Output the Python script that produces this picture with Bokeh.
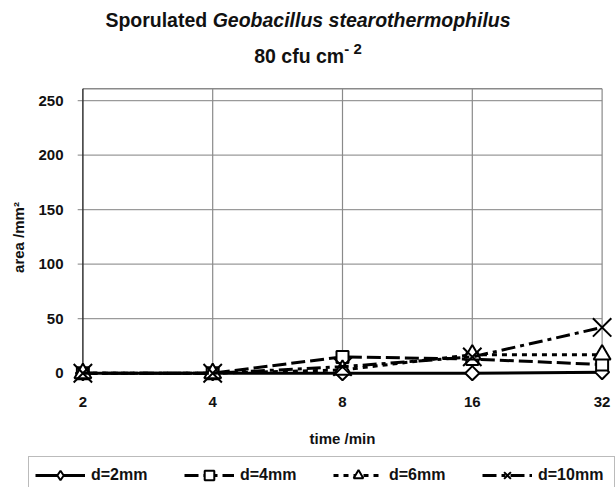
from bokeh.plotting import figure
from bokeh.models import (Range1d, FixedTicker, Legend, LegendItem, Div, ColumnDataSource)
from bokeh.layouts import column
from bokeh.embed import file_html
from bokeh.resources import INLINE

# ---------------- data ----------------
TIMES = ["2", "4", "8", "16", "32"]
D2 = [0, 0, 0, 0, 1]
D4 = [0, 0, 15, 13, 8]
D6 = [0, 0, 3, 17, 17]
D10 = [0, 0, 6, 15, 42]
Y_TICKS = [0, 50, 100, 150, 200, 250]
Y_TOP = 261
SERIES_LABELS = ["d=2mm", "d=4mm", "d=6mm", "d=10mm"]

XPOS = list(range(len(TIMES)))
FONT = "Liberation Sans"

title_html = (
    f'<div style="font-family:\'{FONT}\',Arial,sans-serif;font-weight:bold;'
    f'font-size:19.5px;color:#111;text-align:center;width:616px;padding-top:8px;">'
    f'<div style="line-height:24px;height:24px;">Sporulated <i>Geobacillus stearothermophilus</i></div>'
    f'<div style="line-height:24px;height:24px;margin-top:12px;">80 cfu cm'
    f'<span style="font-size:15px;position:relative;top:-9px;">- 2</span></div>'
    f'</div>'
)
title = Div(text=title_html, width=616, height=86, margin=0)

p = figure(width=616, height=370, output_backend="svg", toolbar_location=None,
           x_range=Range1d(-0.08, 4.08), y_range=Range1d(-14, 263),
           min_border_left=72, min_border_right=4, min_border_top=0,
           min_border_bottom=68, margin=0)
p.outline_line_color = None
p.xgrid.visible = False
p.ygrid.visible = False
p.background_fill_color = "white"
p.border_fill_color = "white"

# axes
p.xaxis.ticker = FixedTicker(ticks=XPOS)
p.xaxis.major_label_overrides = {i: t for i, t in zip(XPOS, TIMES)}
p.yaxis.ticker = FixedTicker(ticks=Y_TICKS)
for ax in (p.xaxis, p.yaxis):
    ax.axis_line_color = None
    ax.major_tick_line_color = None
    ax.minor_tick_line_color = None
    ax.major_label_text_font = FONT
    ax.major_label_text_font_style = "bold"
    ax.major_label_text_font_size = "15px"
    ax.major_label_text_color = "#111111"
    ax.axis_label_text_font = FONT
    ax.axis_label_text_font_style = "bold"
    ax.axis_label_text_font_size = "15px"
    ax.axis_label_text_color = "#111111"
p.xaxis.major_label_standoff = 2
p.xaxis.axis_label = "time /min"
p.xaxis.axis_label_standoff = 20
p.yaxis.major_label_standoff = 3
p.yaxis.axis_label = "area /mm²"
p.yaxis.axis_label_standoff = 8

# plot box and grid
grid_src = ColumnDataSource(dict(
    x0=[-0.04] * len(Y_TICKS), x1=[XPOS[-1]] * len(Y_TICKS), y=Y_TICKS))
p.segment(x0="x0", y0="y", x1="x1", y1="y", source=grid_src,
          line_color="#9a9a9a", line_width=1.2)
p.segment(x0=XPOS[1:], y0=[0] * (len(XPOS) - 1), x1=XPOS[1:], y1=[Y_TOP] * (len(XPOS) - 1),
          line_color="#8a8a8a", line_width=1.2)
p.segment(x0=[XPOS[0]], y0=[Y_TOP], x1=[XPOS[-1]], y1=[Y_TOP],
          line_color="#8a8a8a", line_width=1.5)
p.segment(x0=[XPOS[0]], y0=[0], x1=[XPOS[0]], y1=[Y_TOP],
          line_color="#333333", line_width=1.5)

# series: (values, dash, plot marker, legend marker)
specs = [
    (D2, "solid", dict(marker="square", size=10, angle=45, angle_units="deg"), "diamond"),
    (D4, "14 5", dict(marker="square", size=12), "square"),
    (D6, "5 5", dict(marker="triangle", size=17), "triangle"),
    (D10, "14 5 4 5", dict(marker="x", size=26), "x"),
]
for vals, dash, mk, _ in specs:
    p.line(XPOS, vals, line_color="black", line_width=3, line_dash=dash)
    p.scatter(XPOS, vals, fill_color="white", line_color="black",
              line_width=2, **mk)

# legend strip (its own small figure, cut at the bottom like the reference);
# the same series are drawn there but outside its visible range
lg = figure(width=616, height=31, output_backend="svg", toolbar_location=None,
            x_range=Range1d(100, 101), y_range=Range1d(100, 101),
            x_axis_location=None, y_axis_location=None,
            min_border_left=0, min_border_right=0, min_border_top=0,
            min_border_bottom=0, margin=0)
lg.grid.visible = False
lg.outline_line_color = None
items = []
for lab, (vals, dash, mk, lmk) in zip(SERIES_LABELS, specs):
    ln = lg.line(XPOS, vals, line_color="black", line_width=3, line_dash=dash)
    sc = lg.scatter(XPOS, vals, marker=lmk, fill_color="white", line_color="black",
                    line_width=2)
    items.append(LegendItem(label=lab, renderers=[ln, sc]))
H = 36
legend = Legend(items=items, orientation="horizontal", location=(28, 31 - 2 - H),
                glyph_width=50, glyph_height=24, label_standoff=6,
                label_width=70, spacing=23, padding=6, margin=0,
                label_text_font=FONT, label_text_font_style="bold",
                label_text_font_size="16px", label_text_color="#111111",
                border_line_color="#777777", border_line_width=1.5,
                background_fill_alpha=1.0)
lg.add_layout(legend, "center")

top = column(title, p, spacing=0, margin=0)
layout = column(top, lg, spacing=0, margin=0)
open("out.html", "w").write(file_html(layout, INLINE))
